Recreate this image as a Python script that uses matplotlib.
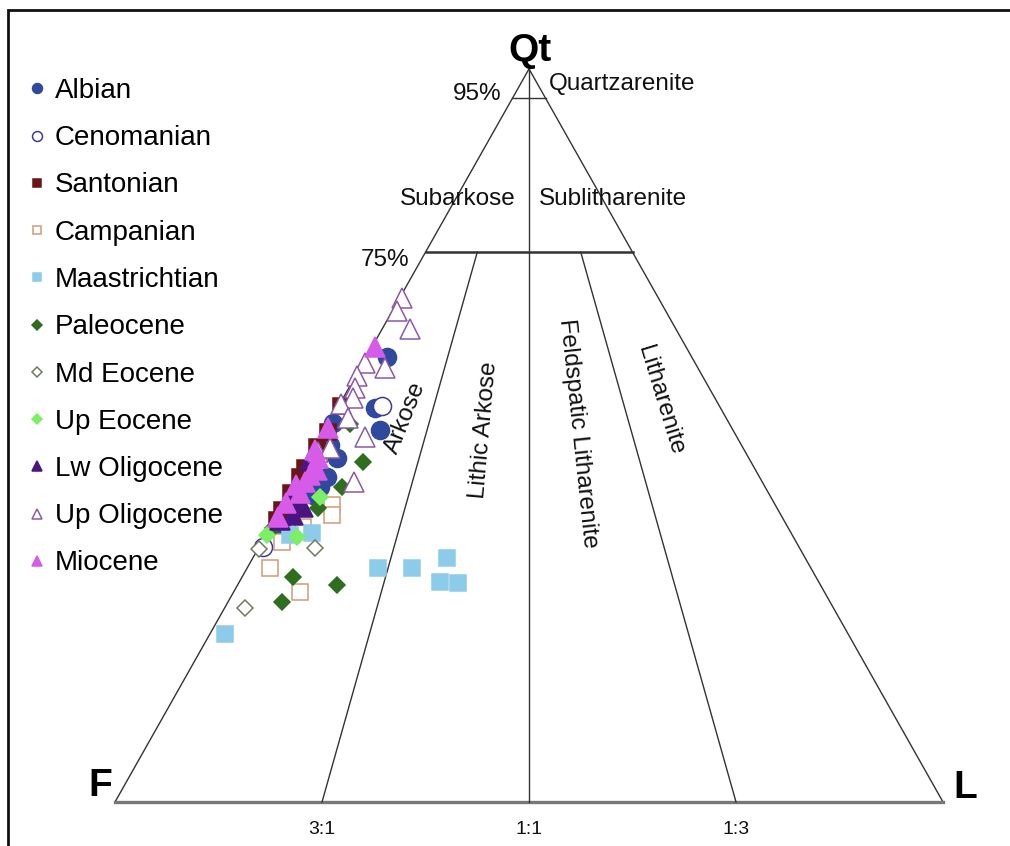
import numpy as np
import matplotlib.pyplot as plt
from matplotlib.patches import Rectangle

plt.rcParams['font.family'] = ['Liberation Sans', 'DejaVu Sans']

# === QFL modes (%) by stage: Qt / F / L ===
albian_q = [60.7, 53.7, 50.7, 51.7, 46.9, 44.3, 43.0, 41.9, 37.1, 48.7]
albian_f = [36.8, 41.8, 42.7, 47.8, 49.7, 52.3, 53.7, 55.1, 61.3, 49.7]
albian_l = [2.5, 4.5, 6.6, 0.5, 3.4, 3.4, 3.3, 3.0, 1.6, 1.6]

cenomanian_q = [54.0, 34.8]
cenomanian_f = [40.7, 64.7]
cenomanian_l = [5.3, 0.5]

santonian_q = [54.0, 50.5, 48.4, 45.6, 44.3, 42.1, 39.8, 38.5]
santonian_f = [45.7, 49.0, 51.4, 54.2, 55.5, 57.7, 59.9, 61.2]
santonian_l = [0.3, 0.5, 0.2, 0.2, 0.2, 0.2, 0.3, 0.3]

campanian_q = [40.5, 39.1, 37.5, 35.5, 31.9, 28.6]
campanian_f = [53.5, 54.2, 58.5, 62.1, 65.3, 63.4]
campanian_l = [6.0, 6.7, 4.0, 2.4, 2.8, 8.0]

maastrichtian_q = [31.9, 31.9, 33.3, 30.0, 29.9, 22.9, 36.7, 36.4]
maastrichtian_f = [52.3, 48.2, 43.2, 45.7, 43.6, 75.3, 57.9, 60.7]
maastrichtian_l = [15.8, 19.9, 23.5, 24.3, 26.5, 1.8, 5.4, 2.9]

paleocene_q = [51.6, 46.4, 43.0, 40.1, 37.4, 30.7, 29.6, 27.3]
paleocene_f = [45.8, 46.8, 51.1, 55.4, 62.2, 63.1, 58.4, 66.2]
paleocene_l = [2.6, 6.8, 5.9, 4.5, 0.4, 6.2, 12.0, 6.5]

md_eocene_q = [34.5, 34.6, 26.5]
md_eocene_f = [65.3, 58.5, 71.0]
md_eocene_l = [0.2, 6.9, 2.5]

up_eocene_q = [41.6, 36.4, 36.1]
up_eocene_f = [54.4, 63.4, 60.0]
up_eocene_l = [4.0, 0.2, 3.9]

lw_oligocene_q = [42.8, 41.2, 40.2, 39.1, 46.6, 38.5]
lw_oligocene_f = [56.9, 58.0, 57.2, 58.9, 53.1, 60.8]
lw_oligocene_l = [0.3, 0.8, 2.6, 2.0, 0.3, 0.7]

up_oligocene_q = [68.7, 67.0, 64.5, 59.2, 59.9, 58.1, 56.5, 55.1, 54.3, 49.8, 47.7, 48.3, 43.6, 52.4]
up_oligocene_f = [31.0, 32.4, 32.1, 37.8, 39.8, 41.7, 42.8, 43.7, 45.5, 44.9, 51.6, 49.9, 49.3, 45.7]
up_oligocene_l = [0.3, 0.6, 3.4, 3.0, 0.3, 0.2, 0.7, 1.2, 0.2, 5.3, 0.7, 1.8, 7.1, 1.9]

miocene_q = [62.1, 51.0, 46.9, 45.3, 43.6, 42.1, 40.8, 38.9, 44.6, 43.2, 48.0]
miocene_f = [37.6, 48.8, 52.0, 52.9, 55.2, 56.6, 59.0, 60.9, 54.1, 56.6, 51.8]
miocene_l = [0.3, 0.2, 1.1, 1.8, 1.2, 1.3, 0.2, 0.2, 1.3, 0.2, 0.2]

# === Styles: label, data, marker, size, face, edge ===
stages = [
    ("Albian", (albian_q, albian_f, albian_l), "o", 13, "#2f4a9c", "#2f4a9c"),
    ("Cenomanian", (cenomanian_q, cenomanian_f, cenomanian_l), "o", 13, "white", "#3c3a9e"),
    ("Santonian", (santonian_q, santonian_f, santonian_l), "s", 11, "#6b1616", "#6b1616"),
    ("Campanian", (campanian_q, campanian_f, campanian_l), "s", 11, "white", "#cf9c78"),
    ("Maastrichtian", (maastrichtian_q, maastrichtian_f, maastrichtian_l), "s", 11, "#8ccbea", "#8ccbea"),
    ("Paleocene", (paleocene_q, paleocene_f, paleocene_l), "D", 8.5, "#2f6e1f", "#2f6e1f"),
    ("Md Eocene", (md_eocene_q, md_eocene_f, md_eocene_l), "D", 8.5, "white", "#6f7b5f"),
    ("Up Eocene", (up_eocene_q, up_eocene_f, up_eocene_l), "D", 8.5, "#7cf064", "#7cf064"),
    ("Lw Oligocene", (lw_oligocene_q, lw_oligocene_f, lw_oligocene_l), "^", 14, "#4a1580", "#4a1580"),
    ("Up Oligocene", (up_oligocene_q, up_oligocene_f, up_oligocene_l), "^", 14, "white", "#8a5aa8"),
    ("Miocene", (miocene_q, miocene_f, miocene_l), "^", 14, "#d65be8", "#d65be8"),
]


def to_xy(q, f, l):
    """Ternary (Qt, F, L) -> plot coords, F at left, L at right, Qt at top."""
    q, f, l = np.asarray(q, float), np.asarray(f, float), np.asarray(l, float)
    tot = q + f + l
    q, l = q / tot * 100, l / tot * 100
    return l + q / 2, q


fig = plt.figure(figsize=(10.1, 8.46), dpi=100)
ax = fig.add_axes([0, 0, 1, 1])
ax.set_xlim(-13.89, 108.09)
ax.set_ylim(-6.0, 109.4)
ax.axis("off")

# === Folk (1974) field boundaries ===
line_kw = dict(color="#333333", lw=1.0, zorder=1)
x, y = to_xy([100, 0, 0, 100], [0, 100, 0, 0], [0, 0, 100, 0])
ax.plot(x[:3], y[:3], **line_kw)
ax.plot(x[[0, 2]], y[[0, 2]], **line_kw)
ax.plot(x[1:3], y[1:3], color="#777777", lw=2.4, zorder=1)

# upper quartz limit is drawn a little above the nominal 95 %
x, y = to_xy([96, 96], [4, 0], [0, 4])
ax.plot(x, y, **line_kw)
x, y = to_xy([75, 75], [25, 0], [0, 25])
ax.plot(x, y, color="#333333", lw=1.8, zorder=1)
x, y = to_xy([100, 0], [0, 50], [0, 50])
ax.plot(x, y, **line_kw)
x, y = to_xy([75, 0], [18.75, 75], [6.25, 25])
ax.plot(x, y, **line_kw)
x, y = to_xy([75, 0], [6.25, 25], [18.75, 75])
ax.plot(x, y, **line_kw)

# === Samples ===
for name, (q, f, l), mk, ms, fc, ec in stages:
    x, y = to_xy(q, f, l)
    ax.plot(x, y, linestyle="none", marker=mk, markersize=ms,
            markerfacecolor=fc, markeredgecolor=ec, markeredgewidth=1.1,
            label=name, zorder=3)

# === Labels ===
txt = dict(fontsize=17.5, color="#111111", ha="center", va="center")
ax.text(50.1, 102.4, "Qt", fontsize=28, fontweight="bold", ha="center", va="center")
ax.text(-1.8, 2.2, "F", fontsize=28, fontweight="bold", ha="center", va="center")
ax.text(102.7, 1.9, "L", fontsize=28, fontweight="bold", ha="center", va="center")
ax.text(43.8, 96.6, "95%", **txt)
ax.text(61.2, 98.0, "Quartzarenite", **txt)
ax.text(41.4, 82.3, "Subarkose", **txt)
ax.text(60.1, 82.3, "Sublitharenite", **txt)
ax.text(32.6, 73.9, "75%", **txt)
ax.text(35.1, 52.4, "Arkose", rotation=68, **txt)
ax.text(44.6, 50.8, "Lithic Arkose", rotation=85, **txt)
ax.text(55.9, 50.3, "Feldspatic Litharenite", rotation=-84, **txt)
ax.text(65.8, 54.8, "Litharenite", rotation=-73, **txt)
for xr, lab in [(25, "3:1"), (50, "1:1"), (75, "1:3")]:
    ax.text(xr, -3.8, lab, fontsize=14, ha="center", va="center", color="#111111")

ax.legend(loc="upper left", bbox_to_anchor=(30 / 1010, 1 - 78 / 846),
          bbox_transform=fig.transFigure, frameon=False, fontsize=20,
          markerscale=0.55, handlelength=0.5, handletextpad=0.4,
          labelspacing=0.765, borderpad=0, borderaxespad=0)

# frame (left and top edges inside the image)
fig.add_artist(Rectangle((8 / 1010, -0.1), 1.2, 1.1 - 10 / 846, transform=fig.transFigure,
                         fill=False, lw=2, edgecolor="#111111"))

fig.savefig("out.png", dpi=100)
